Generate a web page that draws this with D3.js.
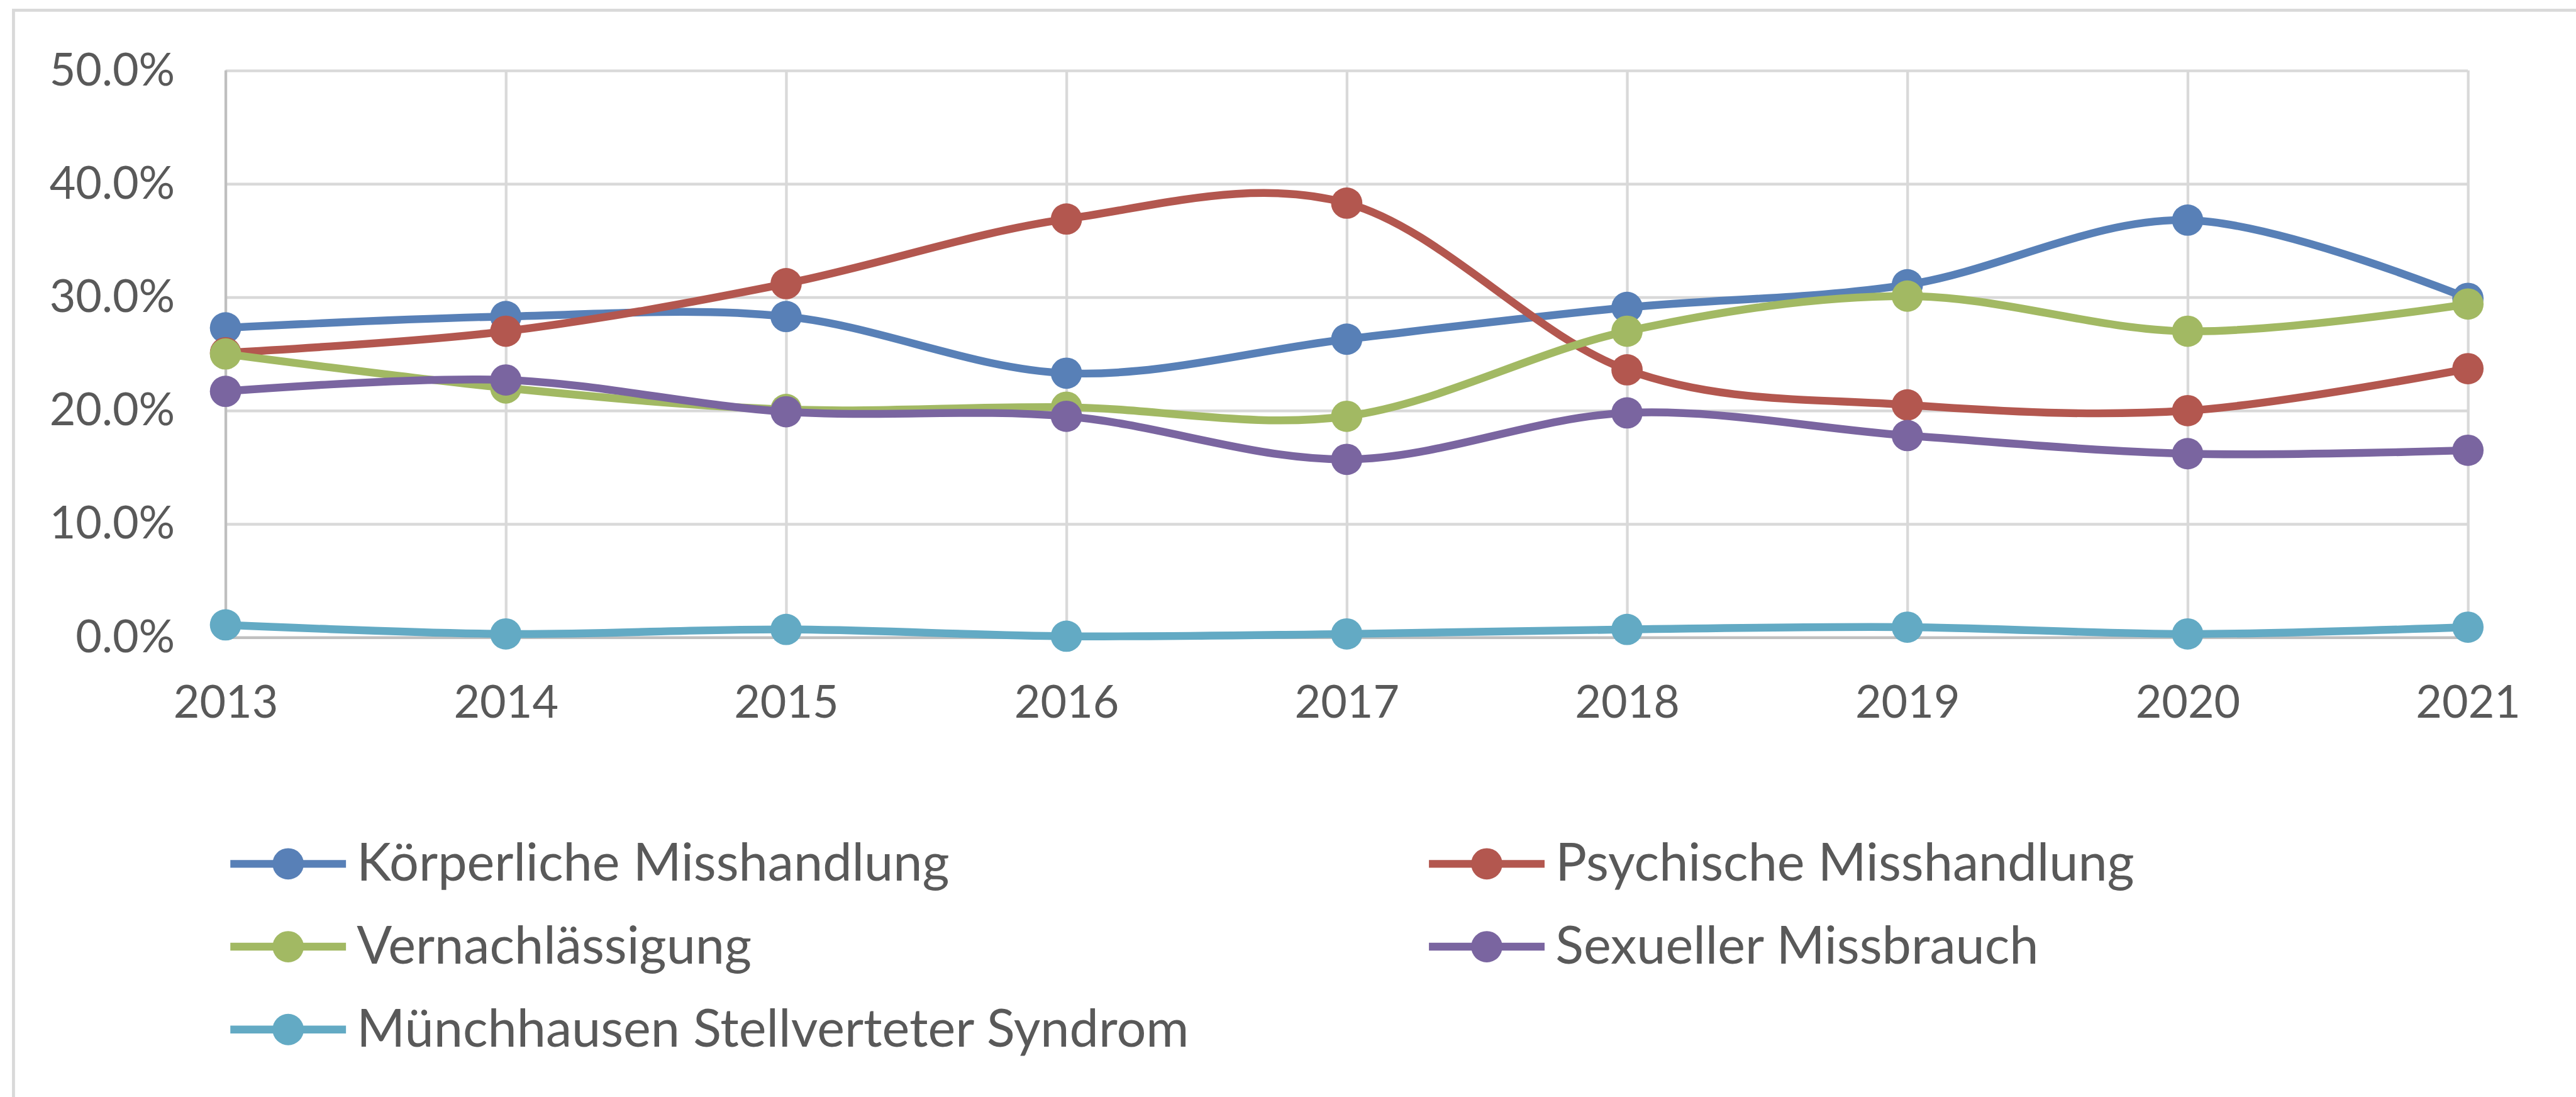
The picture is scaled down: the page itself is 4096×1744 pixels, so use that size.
<!DOCTYPE html>
<html>
<head>
<meta charset="utf-8">
<script src="https://cdn.jsdelivr.net/npm/d3@7"></script>
<style>
  html, body { margin: 0; padding: 0; background: #fff; overflow: hidden; }
  text { font-family: Lato, 'Open Sans', sans-serif; fill: #595959; }
</style>
</head>
<body>
<svg id="chart"></svg>
<script>
        // values, in percent
        const years = ['2013', '2014', '2015', '2016', '2017', '2018', '2019', '2020', '2021']
        const seriesNames = ['Körperliche Misshandlung', 'Psychische Misshandlung', 'Vernachlässigung',
            'Sexueller Missbrauch', 'Münchhausen Stellverteter Syndrom']
        const koerperlich = [27.3, 28.3, 28.3, 23.3, 26.3, 29.1, 31.1, 36.8, 29.9]
        const psychisch = [25.1, 27.0, 31.2, 36.9, 38.3, 23.6, 20.5, 20.0, 23.7]
        const vernachlaessigung = [25.0, 22.0, 20.1, 20.3, 19.5, 27.0, 30.1, 27.0, 29.4]
        const sexuell = [21.7, 22.7, 19.9, 19.5, 15.7, 19.8, 17.8, 16.2, 16.5]
        const muenchhausen = [1.1, 0.3, 0.7, 0.1, 0.3, 0.7, 0.9, 0.3, 0.9]
        const yTicks = [0, 10, 20, 30, 40, 50]

        const colors = ['#5880b7', '#b3574f', '#a2b963', '#7a65a0', '#63aac4']
        const values = [koerperlich, psychisch, vernachlaessigung, sexuell, muenchhausen]

        // drawn in the reference's own pixel size, then shrunk by the viewBox
        let W = 4276
        let H = 1821

        let svg = d3.select('#chart')
            .attr('width', 4096)
            .attr('height', 1744)
            .attr('viewBox', `0 0 ${W} ${H}`)

        // outer chart frame (right and bottom run off the picture)
        svg.append('rect')
            .attr('x', 22).attr('y', 17)
            .attr('width', W + 100).attr('height', H + 100)
            .attr('fill', 'none')
            .attr('stroke', '#d9d9d9')
            .attr('stroke-width', 5)

        const plotL = 374, plotR = 4097, plotT = 117, plotB = 1058

        let xScale = d3.scalePoint(years, [plotL, plotR])
        let yScale = d3.scaleLinear([0, 50], [plotB, plotT])

        let yAxis = svg.append('g')
            .attr('transform', `translate(${plotL},0)`)
            .call(d3.axisLeft(yScale)
                .tickValues(yTicks)
                .tickFormat(d => d.toFixed(1) + '%')
                .tickSize(-(plotR - plotL))
                .tickPadding(84))
        yAxis.select('.domain').remove()
        yAxis.selectAll('line').attr('stroke', '#d9d9d9').attr('stroke-width', 4.5)
        yAxis.selectAll('text').attr('font-size', 75).attr('fill', '#595959')

        let xAxis = svg.append('g')
            .attr('transform', `translate(0,${plotB})`)
            .call(d3.axisBottom(xScale)
                .tickSize(-(plotB - plotT))
                .tickPadding(80))
        xAxis.select('.domain').remove()
        xAxis.selectAll('line').attr('stroke', '#d9d9d9').attr('stroke-width', 4.5)
        xAxis.selectAll('text').attr('font-size', 75).attr('fill', '#595959')

        // the two axis lines are a shade darker than the grid
        xAxis.select('.tick line').attr('stroke', '#bfbfbf')
        yAxis.select('.tick line').attr('stroke', '#bfbfbf')

        let line = d3.line()
            .x((d, i) => xScale(years[i]))
            .y(d => yScale(d))
            .curve(d3.curveCatmullRom.alpha(0))

        let series = svg.append('g')
            .selectAll('g')
            .data(values)
            .enter().append('g')

        series.append('path')
            .attr('d', d => line(d))
            .attr('fill', 'none')
            .attr('stroke', (d, i) => colors[i])
            .attr('stroke-width', 13)

        series.each(function(d, i) {
            d3.select(this).selectAll('circle')
                .data(d)
                .enter().append('circle')
                .attr('cx', (v, j) => xScale(years[j]))
                .attr('cy', v => yScale(v))
                .attr('r', 26)
                .attr('fill', colors[i])
        })

        // legend, two columns
        let legend = svg.append('g')
            .selectAll('g')
            .data(seriesNames)
            .enter().append('g')
            .attr('transform', (d, i) => `translate(${i % 2 == 0 ? 382 : 2372}, ${1434 + Math.floor(i / 2) * 137.5})`)

        legend.append('line')
            .attr('x1', 0).attr('x2', 192)
            .attr('stroke', (d, i) => colors[i])
            .attr('stroke-width', 13)

        legend.append('circle')
            .attr('cx', 96)
            .attr('r', 26)
            .attr('fill', (d, i) => colors[i])

        legend.append('text')
            .attr('x', 210)
            .attr('y', 28)
            .attr('font-size', 86.5)
            .text(d => d)
</script>
</body>
</html>
